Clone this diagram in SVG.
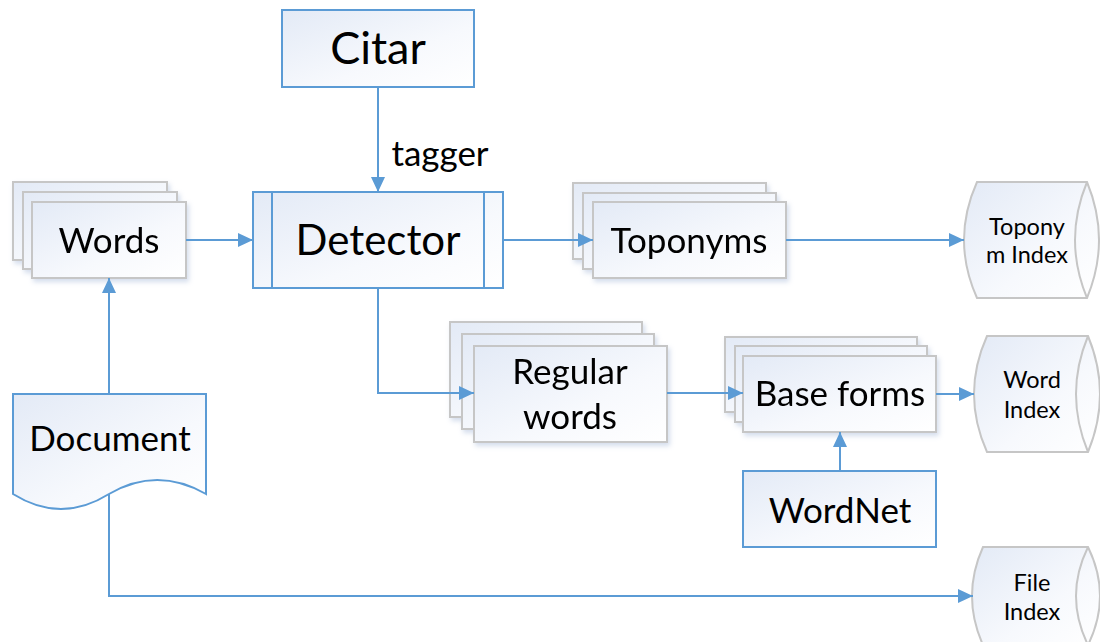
<svg xmlns="http://www.w3.org/2000/svg" width="1100" height="642" viewBox="0 0 1100 642">
<defs>
<linearGradient id="g" x1="0" y1="0" x2="1" y2="1">
<stop offset="0" stop-color="#e3eaf6"/>
<stop offset="0.6" stop-color="#f7f9fd"/>
<stop offset="1" stop-color="#ffffff"/>
</linearGradient>
<filter id="sh" x="-10%" y="-10%" width="125%" height="130%">
<feDropShadow dx="2" dy="3" stdDeviation="2.5" flood-color="#9fb4d6" flood-opacity="0.45"/>
</filter>
<marker id="ah" markerUnits="userSpaceOnUse" markerWidth="16" markerHeight="16" viewBox="0 0 16 16" refX="15" refY="8" orient="auto">
<path d="M0,1 L15,8 L0,15 Z" fill="#5b9bd5"/>
</marker>
</defs>
<style>
.blue{fill:url(#g);stroke:#5b9bd5;stroke-width:2}
.grey{fill:url(#g);stroke:#c6c6c6;stroke-width:2}
.conn{fill:none;stroke:#5b9bd5;stroke-width:2;marker-end:url(#ah)}
.plain{fill:none;stroke:#5b9bd5;stroke-width:2}
text{font-family:Lato,"Liberation Sans",sans-serif;fill:#000;text-anchor:middle}
.big{font-size:42px}
.mid{font-size:35px}
.sm{font-size:23.5px}
</style>

<g id="citar">
<rect class="blue" x="282" y="10" width="192" height="77"/>
<text x="378" y="64" style="font-size:45px">Citar</text>
</g>

<g id="words" filter="url(#sh)">
<rect class="grey" x="13" y="182" width="154" height="78"/>
<rect class="grey" x="23" y="192" width="154" height="77"/>
<rect class="grey" x="32" y="202" width="154" height="76"/>
<text class="mid" x="109" y="253">Words</text>
</g>

<g id="detector">
<rect class="blue" x="253" y="192" width="250" height="96"/>
<path class="plain" d="M272,192 V288 M484,192 V288"/>
<text class="big" x="378" y="255">Detector</text>
</g>

<g id="toponyms" filter="url(#sh)">
<rect class="grey" x="573" y="183" width="193" height="76"/>
<rect class="grey" x="583" y="193" width="193" height="76"/>
<rect class="grey" x="593" y="202" width="193" height="76"/>
<text class="mid" x="689" y="253">Toponyms</text>
</g>

<g id="toponym-index">
<path class="grey" d="M977,182 H1087 Q1111,240 1087,298 H977 Q951,240 977,182 Z"/>
<path fill="none" stroke="#c6c6c6" stroke-width="2" d="M1087,182 Q1063,240 1087,298"/>
<text class="sm" x="1027" y="235">Topony</text>
<text class="sm" x="1027" y="263">m Index</text>
</g>

<g id="document">
<path class="blue" d="M13,394 H206 V494 Q157,466 109,494 Q61,524 13,494 Z"/>
<text class="mid" x="110" y="451">Document</text>
</g>

<g id="regular-words" filter="url(#sh)">
<rect class="grey" x="450" y="322" width="192" height="95"/>
<rect class="grey" x="462" y="334" width="192" height="95"/>
<rect class="grey" x="474" y="346" width="193" height="96"/>
<text class="mid" x="570" y="384">Regular</text>
<text class="mid" x="570" y="429">words</text>
</g>

<g id="base-forms" filter="url(#sh)">
<rect class="grey" x="725" y="337" width="192" height="75"/>
<rect class="grey" x="735" y="346" width="192" height="76"/>
<rect class="grey" x="743" y="356" width="193" height="76"/>
<text class="mid" x="840" y="406">Base forms</text>
</g>

<g id="word-index">
<path class="grey" d="M987,336 H1088 Q1112,394 1088,452 H987 Q961,394 987,336 Z"/>
<path fill="none" stroke="#c6c6c6" stroke-width="2" d="M1088,336 Q1064,394 1088,452"/>
<text class="sm" x="1032" y="388">Word</text>
<text class="sm" x="1032" y="418">Index</text>
</g>

<g id="wordnet">
<rect class="blue" x="743" y="471" width="193" height="76"/>
<text class="mid" x="840" y="523">WordNet</text>
</g>

<g id="file-index">
<path class="grey" d="M983,547 H1088 Q1112,596 1088,645 H983 Q961,596 983,547 Z"/>
<path fill="none" stroke="#c6c6c6" stroke-width="2" d="M1088,547 Q1064,596 1088,645"/>
<text class="sm" x="1032" y="591">File</text>
<text class="sm" x="1032" y="620">Index</text>
</g>

<g id="connectors">
<path class="conn" d="M378,87 V192"/>
<path class="conn" d="M186,240 H253"/>
<path class="conn" d="M503,240 H593"/>
<path class="conn" d="M786,240 H964"/>
<path class="conn" d="M378,288 V393 H474"/>
<path class="conn" d="M667,393 H743"/>
<path class="conn" d="M936,394 H974"/>
<path class="conn" d="M840,471 V432"/>
<path class="conn" d="M109,394 V278"/>
<path class="conn" d="M109,494 V596 H973"/>
<text x="440" y="166" style="font-size:35px">tagger</text>
</g>
</svg>
